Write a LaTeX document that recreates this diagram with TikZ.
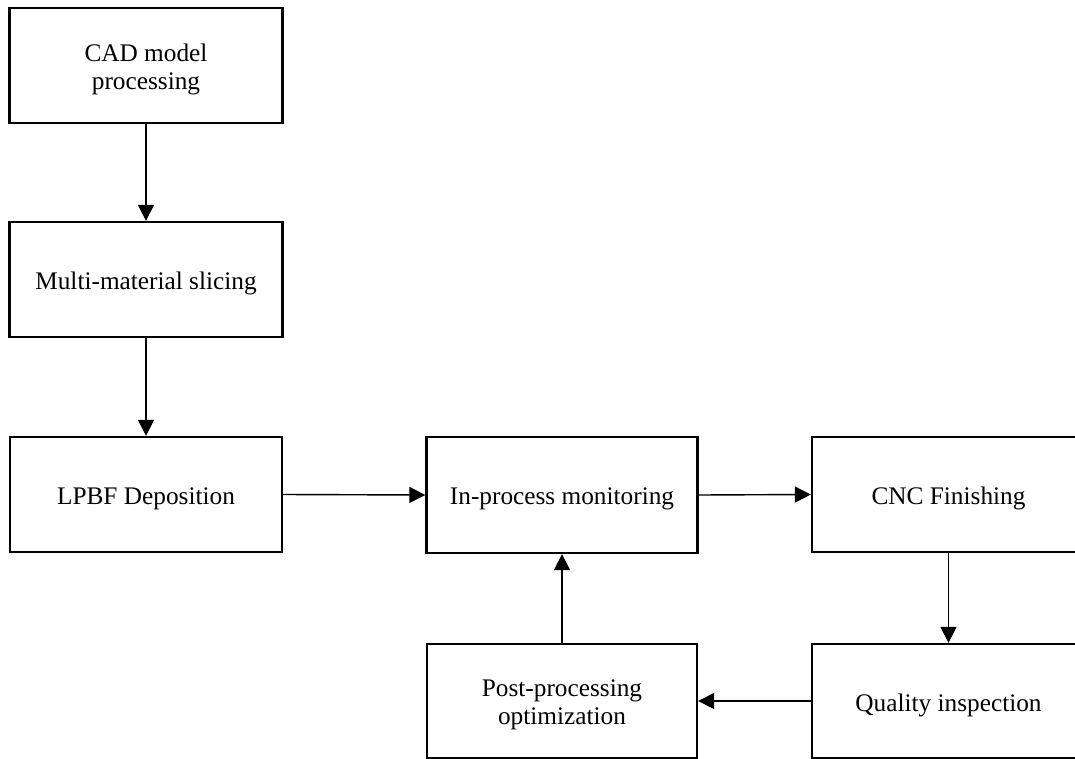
\documentclass[tikz,border=0pt]{standalone}
\usepackage{fontspec}
\setmainfont{Liberation Serif}
\usetikzlibrary{arrows.meta}
\newcommand{\lowertxt}[1]{\raisebox{-4pt}[\height][\depth]{#1}}
\begin{document}
\begin{tikzpicture}[x=1pt,y=-1pt,
  box/.style={draw=black,line width=2.3pt,fill=white,align=center,inner sep=0pt,
    font=\fontsize{25.3}{28.5}\selectfont},
  conn/.style={line width=1.4pt,-{Triangle[length=16pt,width=16pt]}}]
\useasboundingbox (0,0) rectangle (1075,759);
\clip (0,0) rectangle (1075,759);
\node[box,minimum width=273pt,minimum height=115pt] (cad) at (146,65.5) {\lowertxt{CAD model}\\\lowertxt{processing}};
\node[box,minimum width=273pt,minimum height=115pt] (multi) at (146,279.5) {\lowertxt{Multi-material slicing}};
\node[box,minimum width=272pt,minimum height=115pt] (lpbf) at (146,494.5) {\lowertxt{LPBF Deposition}};
\node[box,minimum width=271pt,minimum height=116pt] (inproc) at (562,495) {\lowertxt{In-process monitoring}};
\node[box,minimum width=273pt,minimum height=115pt] (cnc) at (948.5,494.5) {\lowertxt{CNC Finishing}};
\node[box,minimum width=270pt,minimum height=114pt] (post) at (562,701) {\lowertxt{Post-processing}\\\lowertxt{optimization}};
\node[box,minimum width=273pt,minimum height=114pt] (quality) at (948.5,701) {\lowertxt{Quality inspection}};
\draw[conn] (cad.south) -- (multi.north);
\draw[conn] (multi.south) -- (lpbf.north);
\draw[conn] (lpbf.east) -- (inproc.west);
\draw[conn] (inproc.east) -- (cnc.west);
\draw[conn] (cnc.south) -- (quality.north);
\draw[conn] (quality.west) -- (post.east);
\draw[conn] (post.north) -- (inproc.south);
\end{tikzpicture}
\end{document}
